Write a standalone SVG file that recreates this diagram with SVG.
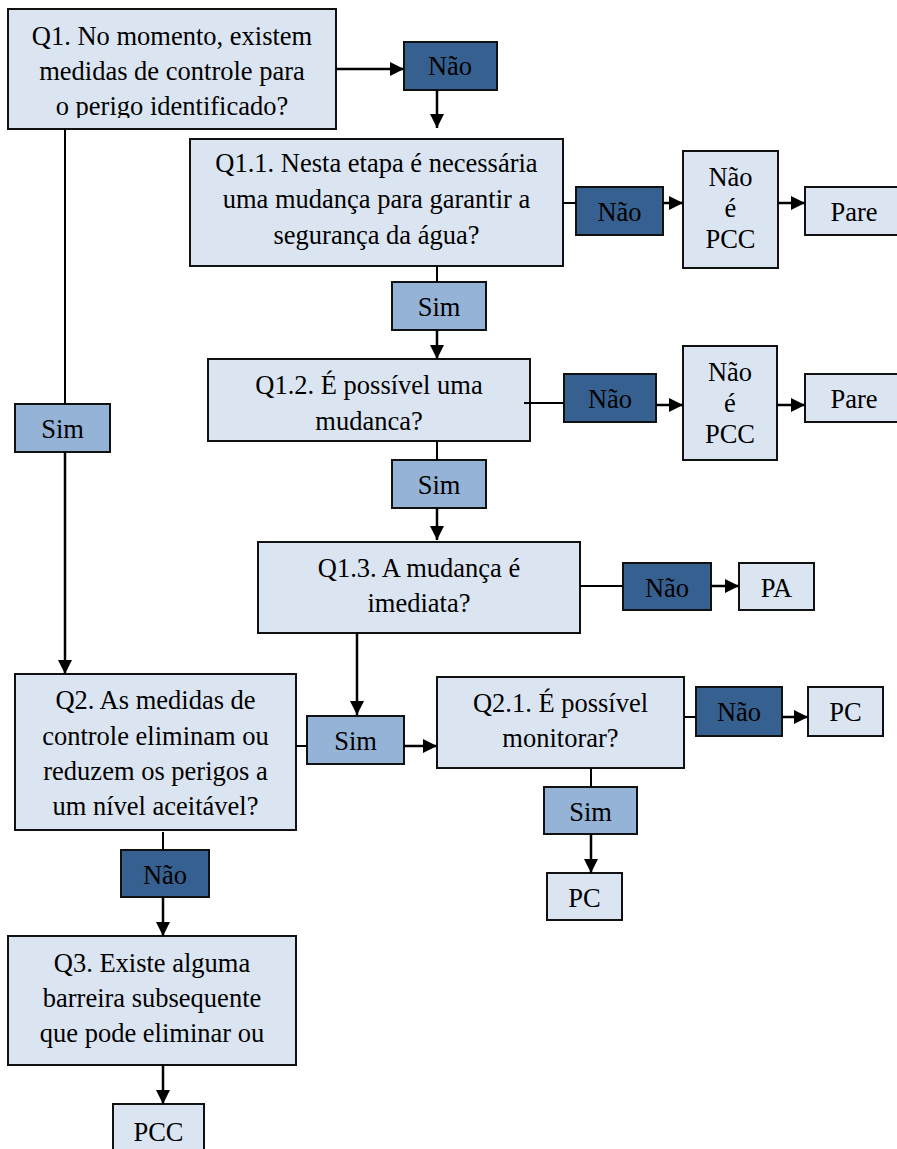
<svg xmlns="http://www.w3.org/2000/svg" width="897" height="1149" viewBox="0 0 897 1149">
<style>
.lt{fill:#DBE5F1;stroke:#111;stroke-width:2}
.md{fill:#95B3D7;stroke:#111;stroke-width:2}
.dk{fill:#36608F;stroke:#111;stroke-width:2}
text{font-family:"Liberation Serif","Times New Roman",serif;font-size:26.5px;fill:#000;text-anchor:middle}
.c{stroke:#000;stroke-width:2;fill:none}
.a{stroke:#000;stroke-width:2.5;fill:none;marker-end:url(#ah)}
</style>
<defs>
<marker id="ah" markerUnits="userSpaceOnUse" markerWidth="14" markerHeight="14" refX="14" refY="7" orient="auto">
<path d="M0,0 L14,7 L0,14 z" fill="#000"/>
</marker>
<clipPath id="q1clip"><rect x="8" y="9" width="328" height="109"/></clipPath>
</defs>

<g id="q1">
<rect class="lt" x="8" y="9" width="328" height="120"/>
<g clip-path="url(#q1clip)">
<text x="172" y="45">Q1. No momento, existem</text>
<text x="172" y="80">medidas de controle para</text>
<text x="172" y="115">o perigo identificado?</text>
</g>
</g>
<g id="nao1"><rect class="dk" x="404" y="42" width="93" height="48"/><text x="450" y="75">Não</text></g>

<g id="q1_1">
<rect class="lt" x="190" y="139" width="373" height="127"/>
<text x="376.5" y="172">Q1.1. Nesta etapa é necessária</text>
<text x="376.5" y="208">uma mudança para garantir a</text>
<text x="376.5" y="244">segurança da água?</text>
</g>
<g id="nao2"><rect class="dk" x="576" y="187" width="87" height="48"/><text x="619.5" y="221">Não</text></g>
<g id="naopcc1">
<rect class="lt" x="683" y="151" width="95" height="117"/>
<text x="730.5" y="186">Não</text><text x="730.5" y="217">é</text><text x="730.5" y="248">PCC</text>
</g>
<g id="pare1"><rect class="lt" x="805" y="187" width="94" height="48"/><text x="854" y="221">Pare</text></g>

<g id="sim1"><rect class="md" x="392" y="282" width="94" height="48"/><text x="439" y="316">Sim</text></g>

<g id="q1_2">
<rect class="lt" x="208" y="359" width="322" height="82"/>
<text x="369" y="394">Q1.2. É possível uma</text>
<text x="369" y="430">mudanca?</text>
</g>
<g id="nao3"><rect class="dk" x="564" y="374" width="92" height="48"/><text x="610" y="408">Não</text></g>
<g id="naopcc2">
<rect class="lt" x="683" y="346" width="94" height="114"/>
<text x="730" y="381">Não</text><text x="730" y="412">é</text><text x="730" y="443">PCC</text>
</g>
<g id="pare2"><rect class="lt" x="805" y="374" width="94" height="48"/><text x="854" y="408">Pare</text></g>

<g id="simleft"><rect class="md" x="15" y="404" width="95" height="48"/><text x="62.5" y="438">Sim</text></g>

<g id="sim2"><rect class="md" x="392" y="460" width="94" height="48"/><text x="439" y="494">Sim</text></g>

<g id="q1_3">
<rect class="lt" x="258" y="542" width="322" height="91"/>
<text x="419" y="577">Q1.3. A mudança é</text>
<text x="419" y="612">imediata?</text>
</g>
<g id="nao4"><rect class="dk" x="623" y="563" width="88" height="47"/><text x="667" y="597">Não</text></g>
<g id="pa"><rect class="lt" x="739" y="563" width="75" height="47"/><text x="776.5" y="597">PA</text></g>

<g id="q2">
<rect class="lt" x="15" y="674" width="281" height="156"/>
<text x="155.5" y="709">Q2. As medidas de</text>
<text x="155.5" y="745">controle eliminam ou</text>
<text x="155.5" y="780">reduzem os perigos a</text>
<text x="155.5" y="815">um nível aceitável?</text>
</g>
<g id="sim3"><rect class="md" x="307" y="716" width="97" height="48"/><text x="355.5" y="750">Sim</text></g>

<g id="q2_1">
<rect class="lt" x="437" y="677" width="247" height="91"/>
<text x="560.5" y="712">Q2.1. É possível</text>
<text x="560.5" y="747">monitorar?</text>
</g>
<g id="nao5"><rect class="dk" x="696" y="687" width="86" height="49"/><text x="739" y="721">Não</text></g>
<g id="pc1"><rect class="lt" x="808" y="687" width="75" height="49"/><text x="845.5" y="721">PC</text></g>
<g id="sim4"><rect class="md" x="544" y="787" width="93" height="47"/><text x="590.5" y="821">Sim</text></g>
<g id="pc2"><rect class="lt" x="547" y="873" width="75" height="47"/><text x="584.5" y="907">PC</text></g>

<g id="nao6"><rect class="dk" x="121" y="850" width="88" height="47"/><text x="165" y="884">Não</text></g>

<g id="q3">
<rect class="lt" x="8" y="936" width="288" height="129"/>
<text x="152" y="972">Q3. Existe alguma</text>
<text x="152" y="1007">barreira subsequente</text>
<text x="152" y="1042">que pode eliminar ou</text>
</g>
<g id="pcc"><rect class="lt" x="113" y="1104" width="91" height="60"/><text x="158.5" y="1141">PCC</text></g>

<g id="connectors">
<line class="a" x1="336" y1="69" x2="404" y2="69"/>
<line class="a" x1="437" y1="90" x2="437" y2="128"/>
<line class="c" x1="563" y1="203" x2="576" y2="203"/>
<line class="a" x1="663" y1="203" x2="683" y2="203"/>
<line class="a" x1="778" y1="203" x2="805" y2="203"/>
<line class="c" x1="437" y1="266" x2="437" y2="282"/>
<line class="a" x1="437" y1="330" x2="437" y2="359"/>
<line class="c" x1="524" y1="403" x2="564" y2="403"/>
<line class="a" x1="656" y1="405" x2="683" y2="405"/>
<line class="a" x1="777" y1="405" x2="805" y2="405"/>
<line class="c" x1="437" y1="441" x2="437" y2="460"/>
<line class="a" x1="437" y1="508" x2="437" y2="540"/>
<line class="c" x1="580" y1="586" x2="623" y2="586"/>
<line class="a" x1="711" y1="586" x2="739" y2="586"/>
<line class="a" x1="357" y1="633" x2="357" y2="715"/>
<line class="c" x1="296" y1="746" x2="307" y2="746"/>
<line class="a" x1="404" y1="746" x2="437" y2="746"/>
<line class="c" x1="684" y1="717" x2="696" y2="717"/>
<line class="a" x1="782" y1="717" x2="808" y2="717"/>
<line class="c" x1="591" y1="768" x2="591" y2="787"/>
<line class="a" x1="591" y1="834" x2="591" y2="873"/>
<line class="c" x1="65" y1="129" x2="65" y2="404"/>
<line class="a" x1="65" y1="452" x2="65" y2="674"/>
<line class="c" x1="163" y1="832" x2="163" y2="850"/>
<line class="a" x1="163" y1="897" x2="163" y2="936"/>
<line class="a" x1="163" y1="1065" x2="163" y2="1104"/>
</g>
</svg>
